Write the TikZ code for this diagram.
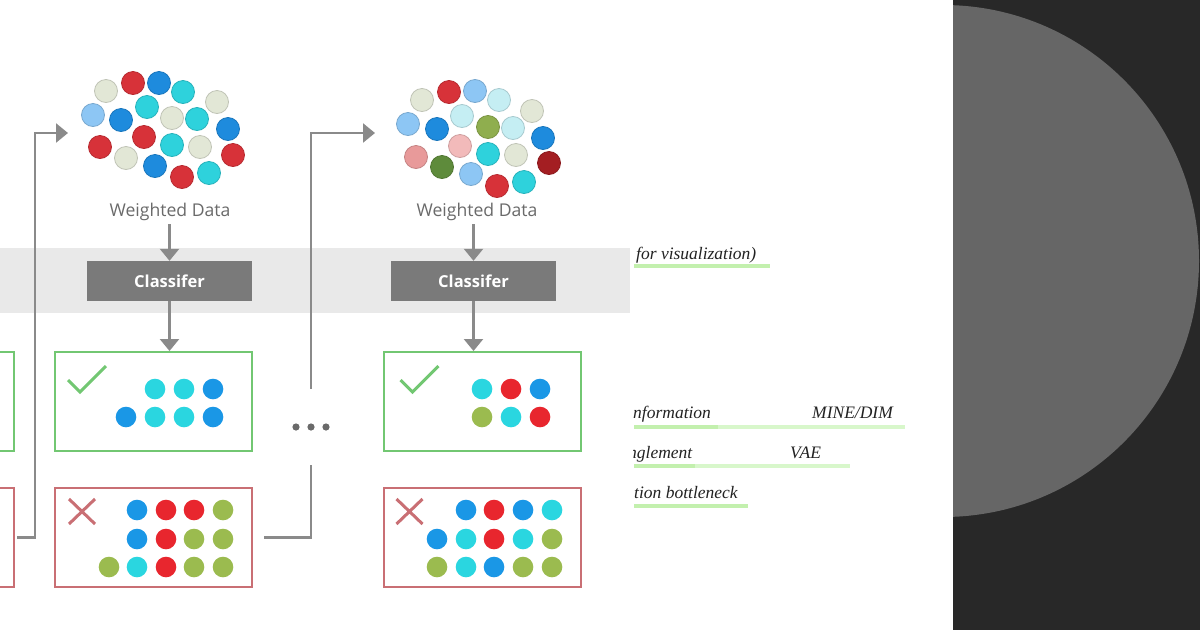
\documentclass[tikz,border=0pt]{standalone}
\usepackage{fontspec}
\setmainfont{Liberation Serif}
\newfontfamily\uifont{Open Sans}
\usetikzlibrary{arrows.meta,calc}

\definecolor{linegray}{HTML}{8A8A8A}
\definecolor{labelgray}{HTML}{6A6A6A}
\definecolor{clsgray}{HTML}{7A7A7A}
\definecolor{bandgray}{HTML}{E9E9E9}
\definecolor{okgreen}{HTML}{72C772}
\definecolor{badred}{HTML}{C96F74}
\definecolor{dotgray}{HTML}{6A6A6A}
\definecolor{notetext}{HTML}{222222}
\definecolor{hiA}{HTML}{C3F0AE}
\definecolor{hiB}{HTML}{D8F7CB}
\definecolor{darkbg}{HTML}{282828}
\definecolor{disc}{HTML}{666666}
% sample dots
\definecolor{cyanD}{HTML}{2AD6E0}
\definecolor{blueD}{HTML}{1A97E6}
\definecolor{redD}{HTML}{E8262E}
\definecolor{greenD}{HTML}{9BBB4F}
% weighted data
\definecolor{redC}{HTML}{D73239}
\definecolor{blueC}{HTML}{1E8BDD}
\definecolor{cyanC}{HTML}{2ED2DC}
\definecolor{paleC}{HTML}{E2E7D6}
\definecolor{lblueC}{HTML}{8DC6F4}
\definecolor{pcyanC}{HTML}{C5EEF3}
\definecolor{oliveC}{HTML}{8FAE4E}
\definecolor{pinkC}{HTML}{F2BABA}
\definecolor{pinkrC}{HTML}{E89A9A}
\definecolor{dgreenC}{HTML}{5E8B3B}
\definecolor{dredC}{HTML}{A41E22}

\tikzset{
  flow/.style={draw=linegray, line width=2.4pt, -{Triangle[width=19pt,length=12pt]}},
  plain/.style={draw=linegray, line width=2.4pt},
  okbox/.style={draw=okgreen, line width=2pt, minimum width=197pt, minimum height=99pt},
  badbox/.style={draw=badred, line width=2pt, minimum width=197pt, minimum height=99pt},
  clsbox/.style={fill=clsgray, text=white, minimum width=165pt, minimum height=40pt,
    font=\uifont\bfseries\fontsize{16.5}{18}\selectfont},
  wdlabel/.style={text=labelgray, font=\uifont\fontsize{17.6}{20}\selectfont},
  note/.style={anchor=base west, text=notetext, inner sep=0pt,
    font=\itshape\fontsize{17.5}{20}\selectfont},
  tick/.style={draw=okgreen, line width=3pt},
  cross/.style={draw=badred, line width=3pt},
  hiline/.style={line width=3.2pt}
}

\begin{document}
\begin{tikzpicture}[x=1pt, y=-1pt]
    \clip (0,0) rectangle (1200,630);
    \fill[white] (0,0) rectangle (1200,630);
    \fill[bandgray] (0,248) rectangle (630,313);

    % weighted data, round 1
    \foreach \px/\py/\c in {106/91/paleC, 133/83/redC, 159/83/blueC, 183/92/cyanC, 217/102/paleC,
        93/115/lblueC, 121/120/blueC, 147/107/cyanC, 172/118/paleC, 197/119/cyanC, 228/129/blueC,
        144/137/redC, 172/145/cyanC, 200/147/paleC, 100/147/redC, 233/155/redC,
        126/158/paleC, 155/166/blueC, 182/177/redC, 209/173/cyanC}
        \filldraw[fill=\c, draw=\c!85!black, line width=0.8pt] (\px,\py) circle (11.5);
    % weighted data, round 2
    \foreach \px/\py/\c in {422/100/paleC, 449/92/redC, 475/91/lblueC, 499/100/pcyanC, 532/111/paleC,
        408/124/lblueC, 437/129/blueC, 462/116/pcyanC, 488/127/oliveC, 513/128/pcyanC, 543/138/blueC,
        460/146/pinkC, 488/154/cyanC, 516/155/paleC, 416/157/pinkrC, 442/167/dgreenC, 549/163/dredC,
        471/174/lblueC, 497/186/redC, 524/182/cyanC}
        \filldraw[fill=\c, draw=\c!85!black, line width=0.8pt] (\px,\py) circle (11.5);

    \node (wd1) [wdlabel] at (170,212) {Weighted Data};
    \node (wd2) [wdlabel] at (477,212) {Weighted Data};
    \node (cls1) [clsbox] at (169.5,281) {Classifer};
    \node (cls2) [clsbox] at (473.5,281) {Classifer};

    \node (okL) [okbox] at (-84.5,401.5) {};
    \node (badL) [badbox] at (-84.5,537.5) {};
    \node (ok1) [okbox] at (153.5,401.5) {};
    \node (bad1) [badbox] at (153.5,537.5) {};
    \node (ok2) [okbox] at (482,401.5) {};
    \node (bad2) [badbox] at (482,537.5) {};
    \node (dots) [minimum width=36pt, minimum height=76pt] at (311,427) {};
    \foreach \dx in {-15,0,15}
        \fill[dotgray] ($(dots.center)+(\dx,0)$) circle (3.6);

    \coordinate (in1) at (68,133);
    \coordinate (in2) at (375,133);

    \draw[flow] (cls1.north |- wd1.south) -- (cls1.north);
    \draw[flow] (cls2.north |- wd2.south) -- (cls2.north);
    \draw[flow] (cls1.south) -- (cls1.south |- ok1.north);
    \draw[flow] (cls2.south) -- (cls2.south |- ok2.north);
    \draw[flow] ([xshift=2pt]badL.east) -- ++(18,0) |- (in1);
    \draw[plain] ([xshift=11pt]bad1.east) -| (dots.south);
    \draw[flow] (dots.north) |- (in2);

    % ticks and crosses
    \draw[tick] ($(ok1.north west)+(14,29)$) -- ++(12,12) -- ++(26,-26);
    \draw[tick] ($(ok2.north west)+(18,29)$) -- ++(12,12) -- ++(26,-26);
    \draw[cross] ($(bad1.north west)+(15,12)$) -- ++(26,25) ++(0,-25) -- ++(-26,25);
    \draw[cross] ($(bad2.north west)+(14,12)$) -- ++(26,25) ++(0,-25) -- ++(-26,25);

    % sample dots
    \foreach \px/\py/\c in {155/389/cyanD, 184/389/cyanD, 213/389/blueD,
        126/417/blueD, 155/417/cyanD, 184/417/cyanD, 213/417/blueD,
        482/389/cyanD, 511/389/redD, 540/389/blueD,
        482/417/greenD, 511/417/cyanD, 540/417/redD,
        137/510/blueD, 166/510/redD, 194/510/redD, 223/510/greenD,
        137/539/blueD, 166/539/redD, 194/539/greenD, 223/539/greenD,
        109/567/greenD, 137/567/cyanD, 166/567/redD, 194/567/greenD, 223/567/greenD,
        466/510/blueD, 494/510/redD, 523/510/blueD, 552/510/cyanD,
        437/539/blueD, 466/539/cyanD, 494/539/redD, 523/539/cyanD, 552/539/greenD,
        437/567/greenD, 466/567/cyanD, 494/567/blueD, 523/567/greenD, 552/567/greenD}
        \fill[\c] (\px,\py) circle (10.3);

    % notes on the right
    \begin{scope}
        \clip (633,230) rectangle (953,520);
        \draw[hiA, hiline] (634,266) -- (770,266);
        \draw[hiB, hiline] (634,427) -- (905,427);
        \draw[hiA, hiline] (634,427) -- (718,427);
        \draw[hiB, hiline] (634,466) -- (850,466);
        \draw[hiA, hiline] (634,466) -- (695,466);
        \draw[hiA, hiline] (634,506) -- (748,506);
        \node (vis) [note] at (636,259) {for visualization)};
        \node (info) [note] at (633,418) {nformation};
        \node (mine) [note] at (812,418) {MINE/DIM};
        \node (dis) [note] at (628,458) {nglement};
        \node (vae) [note] at (790,458) {VAE};
        \node (ib) [note] at (634,498) {tion bottleneck};
    \end{scope}

    % dark panel
    \fill[darkbg] (953,0) rectangle (1200,630);
    \begin{scope}
        \clip (953,0) rectangle (1200,630);
        \fill[disc] (943,261) circle (256);
    \end{scope}
\end{tikzpicture}
\end{document}
